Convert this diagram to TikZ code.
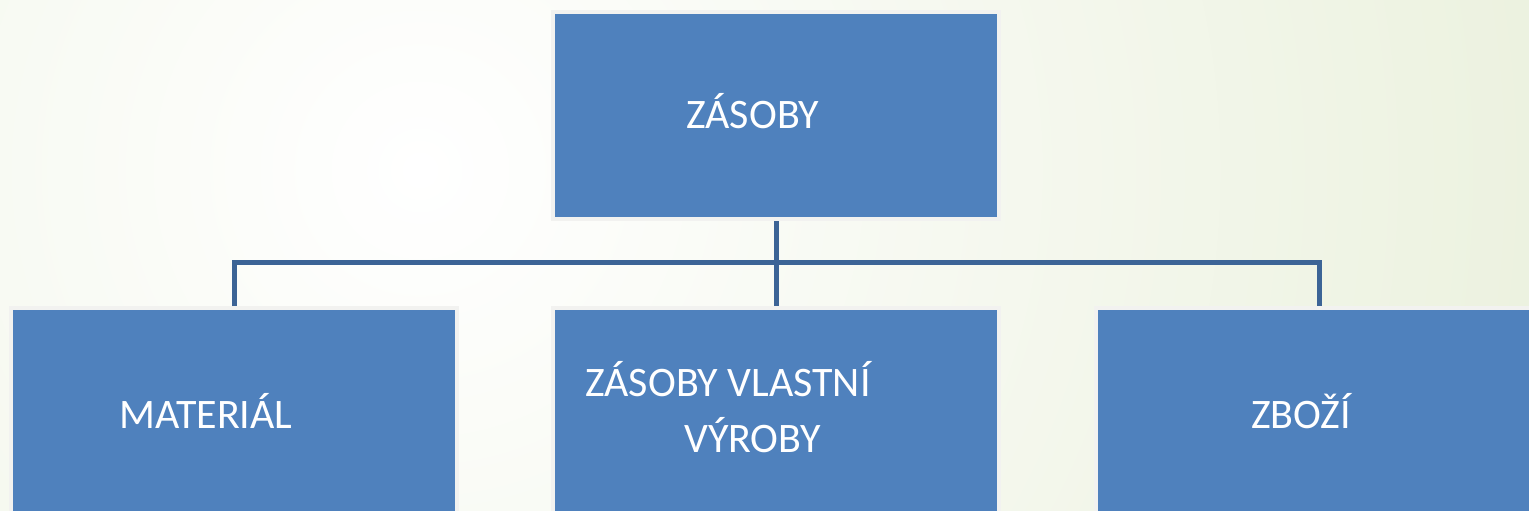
\documentclass[tikz,border=0pt]{standalone}
\usepackage{fontspec}
\setmainfont{Carlito}
\definecolor{box_c}{RGB}{79,129,189}
\definecolor{line_c}{RGB}{60,100,150}
\definecolor{edge_c}{RGB}{242,242,240}
\definecolor{bg_c}{RGB}{228,236,210}
\usetikzlibrary{positioning,
                calc}

\begin{document}
\begin{tikzpicture}[
			x=1pt, y=-1pt,
			box/.style = {rectangle, draw=edge_c, line width=4pt, fill=box_c,
			              minimum width=446pt, minimum height=207pt,
			              inner sep=0pt, anchor=north west},
			lbl/.style = {text=white, font=\fontsize{42}{50}\selectfont,
			              anchor=base west, inner sep=0pt},
			conn/.style = {draw=line_c, line width=5pt},
			]
			\useasboundingbox (0,0) rectangle (1529,511);
			\clip (0,0) rectangle (1529,511);
			% background
			\shade[inner color=white, outer color=bg_c] (420,170) circle (1600pt);
			% boxes
			\node[box] (top) at (551,10) {};
			\node[box, minimum height=220pt] (mat) at (9,306) {};
			\node[box, minimum height=220pt] (vyr) at (551,306) {};
			\node[box, minimum height=220pt] (zbo) at (1094,306) {};
			% edges
			\coordinate (bus) at (774,262);
			\draw[conn] (top.south) -- (vyr.north);
			\draw[conn] (mat.north) |- (bus) -| (zbo.north);
			% texts
			\node[lbl] (t_top) at (686,128) {ZÁSOBY};
			\node[lbl] (t_mat) at (119,428) {MATERIÁL};
			\node[lbl] (t_vyr1) at (585,396) {ZÁSOBY VLASTNÍ};
			\node[lbl] (t_vyr2) at (684,452) {VÝROBY};
			\node[lbl] (t_zbo) at (1251,428) {ZBOŽÍ};
\end{tikzpicture}
\end{document}
